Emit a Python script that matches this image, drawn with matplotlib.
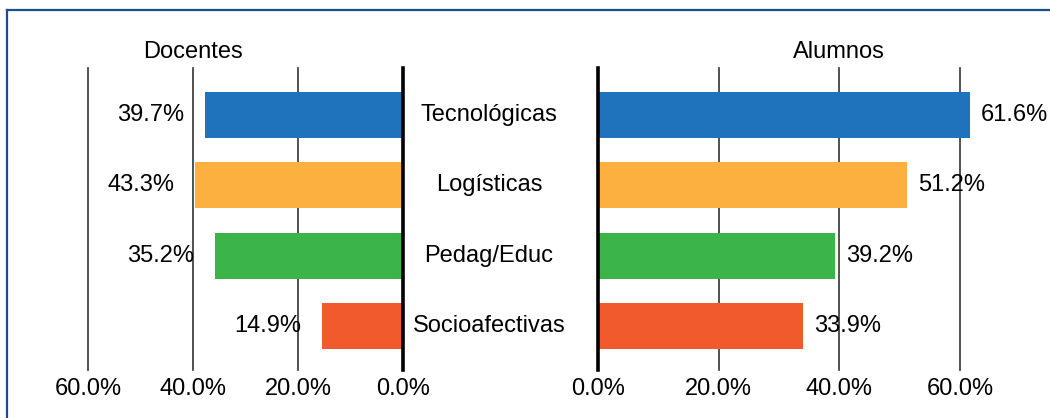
import matplotlib
matplotlib.use("Agg")
import matplotlib.pyplot as plt
import matplotlib.transforms as mtransforms
from matplotlib.lines import Line2D

plt.rcParams['font.family'] = ['Liberation Sans', 'DejaVu Sans']

# data
categories = ['Tecnológicas', 'Logísticas', 'Pedag/Educ', 'Socioafectivas']
docentes = [37.7, 39.6, 35.8, 15.4]          # bar lengths as drawn
docentes_labels = ['39.7%', '43.3%', '35.2%', '14.9%']  # printed values
alumnos = [61.6, 51.2, 39.2, 33.9]
alumnos_labels = ['61.6%', '51.2%', '39.2%', '33.9%']
colors = ['#1f73bd', '#fbb040', '#3bb54a', '#f15a2c']
ticks = [0, 20, 40, 60]
tick_labels = ['0.0%', '20.0%', '40.0%', '60.0%']

W, H = 1050, 418
fig = plt.figure(figsize=(W / 100, H / 100), dpi=100)

bottom = (H - 370) / H
height = (370 - 68) / H
ax_l = fig.add_axes([88 / W, bottom, (403 - 88) / W, height])
ax_r = fig.add_axes([598 / W, bottom, (960 - 598) / W, height])

FS = 17
pos = list(range(len(categories)))

for ax, vals, labels, title, side in [(ax_l, docentes, docentes_labels, 'Docentes', 'left'),
                                      (ax_r, alumnos, alumnos_labels, 'Alumnos', 'right')]:
    ax.barh(pos, vals, height=0.655, color=colors, zorder=2, clip_on=False)
    ax.set_ylim(3.63, -0.67)
    if side == 'left':
        ax.set_xlim(60, 0)
    else:
        ax.set_xlim(0, 60)
    for t in ticks:
        ax.axvline(t, color='black' if t == 0 else '#333333',
                   lw=2.6 if t == 0 else 1.2, zorder=3 if t == 0 else 1, clip_on=False)
    for s in ax.spines.values():
        s.set_visible(False)
    ax.set_yticks([])
    ax.set_xticks(ticks)
    ax.set_xticklabels(tick_labels, fontsize=FS)
    ax.tick_params(axis='x', length=0, pad=6)
    for p, v, lab in zip(pos, vals, labels):
        if side == 'left':
            ax.annotate(lab, xy=(v, p), xytext=(-15, 0), textcoords='offset points',
                        ha='right', va='center', fontsize=FS, annotation_clip=False)
        else:
            ax.annotate(lab, xy=(v, p), xytext=(8, 0), textcoords='offset points',
                        ha='left', va='center', fontsize=FS, annotation_clip=False)
    ax.annotate(title, xy=(40, 1), xycoords=('data', 'axes fraction'),
                xytext=(0, 7), textcoords='offset points',
                ha='center', va='baseline', fontsize=FS)

# category names between the two panels
tr = mtransforms.blended_transform_factory(fig.transFigure, ax_l.transData)
for p, cat in zip(pos, categories):
    fig.text(489 / W, p, cat, transform=tr, ha='center', va='center', fontsize=FS)

# blue frame
bx = 7 / W
by = 1 - 10 / H
fig.add_artist(Line2D([bx, bx], [0, by], color='#1a4f8a', lw=1.6))
fig.add_artist(Line2D([bx, 1], [by, by], color='#1a4f8a', lw=1.6))

fig.savefig('out.png', dpi=100)
